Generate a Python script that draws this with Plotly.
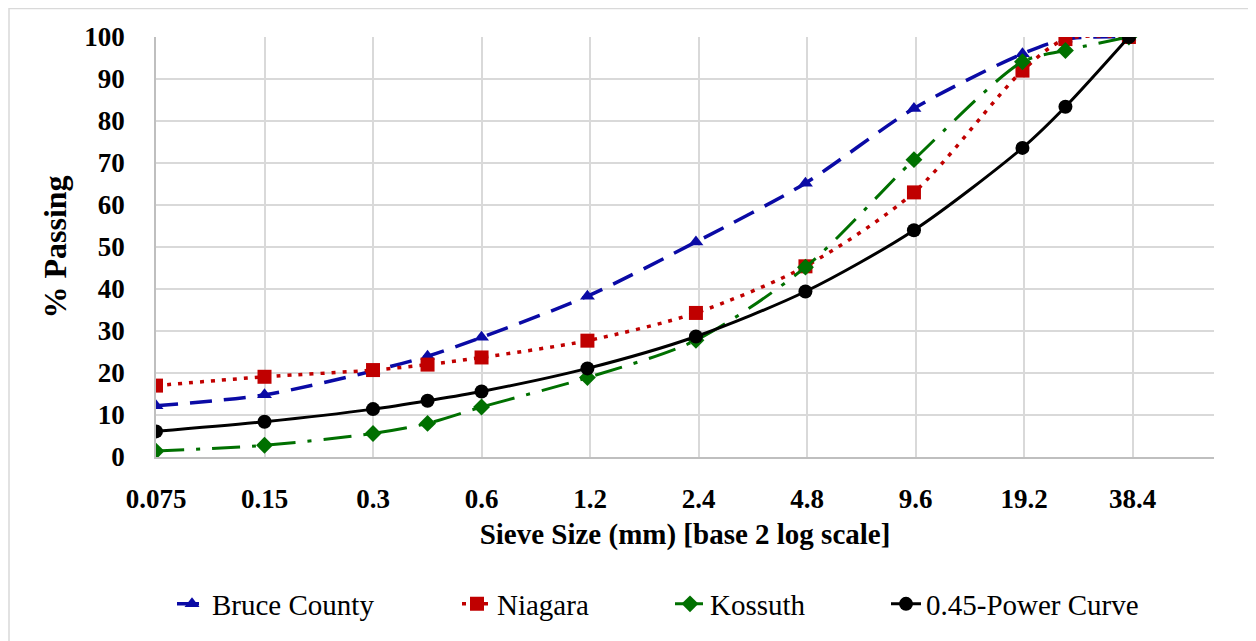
import math
import plotly.graph_objects as go

sieve_mm = [0.075, 0.15, 0.3, 0.425, 0.6, 1.18, 2.36, 4.75, 9.5, 19, 25, 37.5]
bruce = [12.2, 14.8, 20.5, 24.0, 28.5, 38.3, 51.2, 65.2, 83.0, 96.0, 99.5, 100]
niagara = [17.0, 19.1, 20.7, 22.0, 23.7, 27.7, 34.3, 45.4, 63.0, 92.0, 99.5, 100]
kossuth = [1.4, 2.8, 5.6, 8.0, 11.9, 18.9, 27.8, 45.2, 70.8, 94.1, 96.8, 100]
power045 = [6.1, 8.4, 11.4, 13.4, 15.6, 21.1, 28.7, 39.4, 54.0, 73.6, 83.4, 100]

tick_vals = [0.075, 0.15, 0.3, 0.6, 1.2, 2.4, 4.8, 9.6, 19.2, 38.4]
tick_text = ["0.075", "0.15", "0.3", "0.6", "1.2", "2.4", "4.8", "9.6", "19.2", "38.4"]

series = [
    ("Bruce County", bruce, "#0A0AA5", "22px,12px", "triangle-up", 13, 3.5),
    ("Niagara", niagara, "#C00000", "4px,7px", "square", 14, 3.5),
    ("Kossuth", kossuth, "#007000", "28px,12px,4px,12px", "diamond", 13, 3),
    ("0.45-Power Curve", power045, "#000000", "solid", "circle", 14, 3),
]

font_fam = "Liberation Serif, Times New Roman, serif"
xmin = math.log10(0.075)
xmax = xmin + 9.75 * math.log10(2)

# figure sits 8px inside the page (body margin)
W, H = 1248, 633
L, R, T, B = 148, 42, 29, 184
pw, ph = W - L - R, H - T - B

# screen x where each legend entry's text begins
legend_text_x = [213, 498, 711, 927]
legend_ids = ["legend", "legend2", "legend3", "legend4"]

fig = go.Figure()
for (name, vals, col, dash, sym, msize, lw), lid in zip(series, legend_ids):
    fig.add_trace(go.Scatter(
        x=sieve_mm, y=vals, name=name, mode="lines+markers", legend=lid,
        line=dict(color=col, width=lw, dash=dash, shape="spline", smoothing=0.8),
        marker=dict(symbol=sym, size=msize, color=col),
    ))

legend_y = (449 - 596) / ph
legends = {}
for lid, tx in zip(legend_ids, legend_text_x):
    legends[lid] = dict(orientation="h", x=(tx - 8 - 41 - L) / pw, xanchor="left",
                        y=legend_y, yanchor="middle", bgcolor="rgba(0,0,0,0)",
                        font=dict(size=29, family=font_fam))

fig.update_layout(
    width=W, height=H,
    margin=dict(l=L, r=R, t=T, b=B, autoexpand=False),
    paper_bgcolor="white", plot_bgcolor="white",
    font=dict(family=font_fam, color="black"),
    showlegend=True,
    **legends,
    xaxis=dict(type="log", range=[xmin, xmax], tickvals=tick_vals, ticktext=tick_text,
               showgrid=True, gridcolor="#D9D9D9", gridwidth=1.5,
               showline=True, linecolor="#BFBFBF", linewidth=2,
               ticks="", tickfont=dict(size=27, family=font_fam, weight="bold"),
               ticklabelstandoff=17,
               title=dict(text="<b>Sieve Size (mm) [base 2 log scale]</b>",
                          font=dict(size=29, family=font_fam), standoff=10),
               zeroline=False),
    yaxis=dict(range=[0, 100], dtick=10, showgrid=True, gridcolor="#D9D9D9", gridwidth=1.5,
               showline=True, linecolor="#BFBFBF", linewidth=1.5,
               ticks="", tickfont=dict(size=27, family=font_fam, weight="bold"),
               ticklabelstandoff=24,
               title=dict(text="<b>% Passing</b>", font=dict(size=32, family=font_fam), standoff=8),
               zeroline=False),
    shapes=[dict(type="rect", xref="paper", yref="paper",
                 x0=(1 - L) / pw, x1=(W + 10 - L) / pw,
                 y0=-(H + 10 - (H - B)) / ph, y1=1 + (T - 0.5) / ph,
                 line=dict(color="#D9D9D9", width=1.5), fillcolor="rgba(0,0,0,0)", layer="below")],
)

fig.write_html("out.html")
